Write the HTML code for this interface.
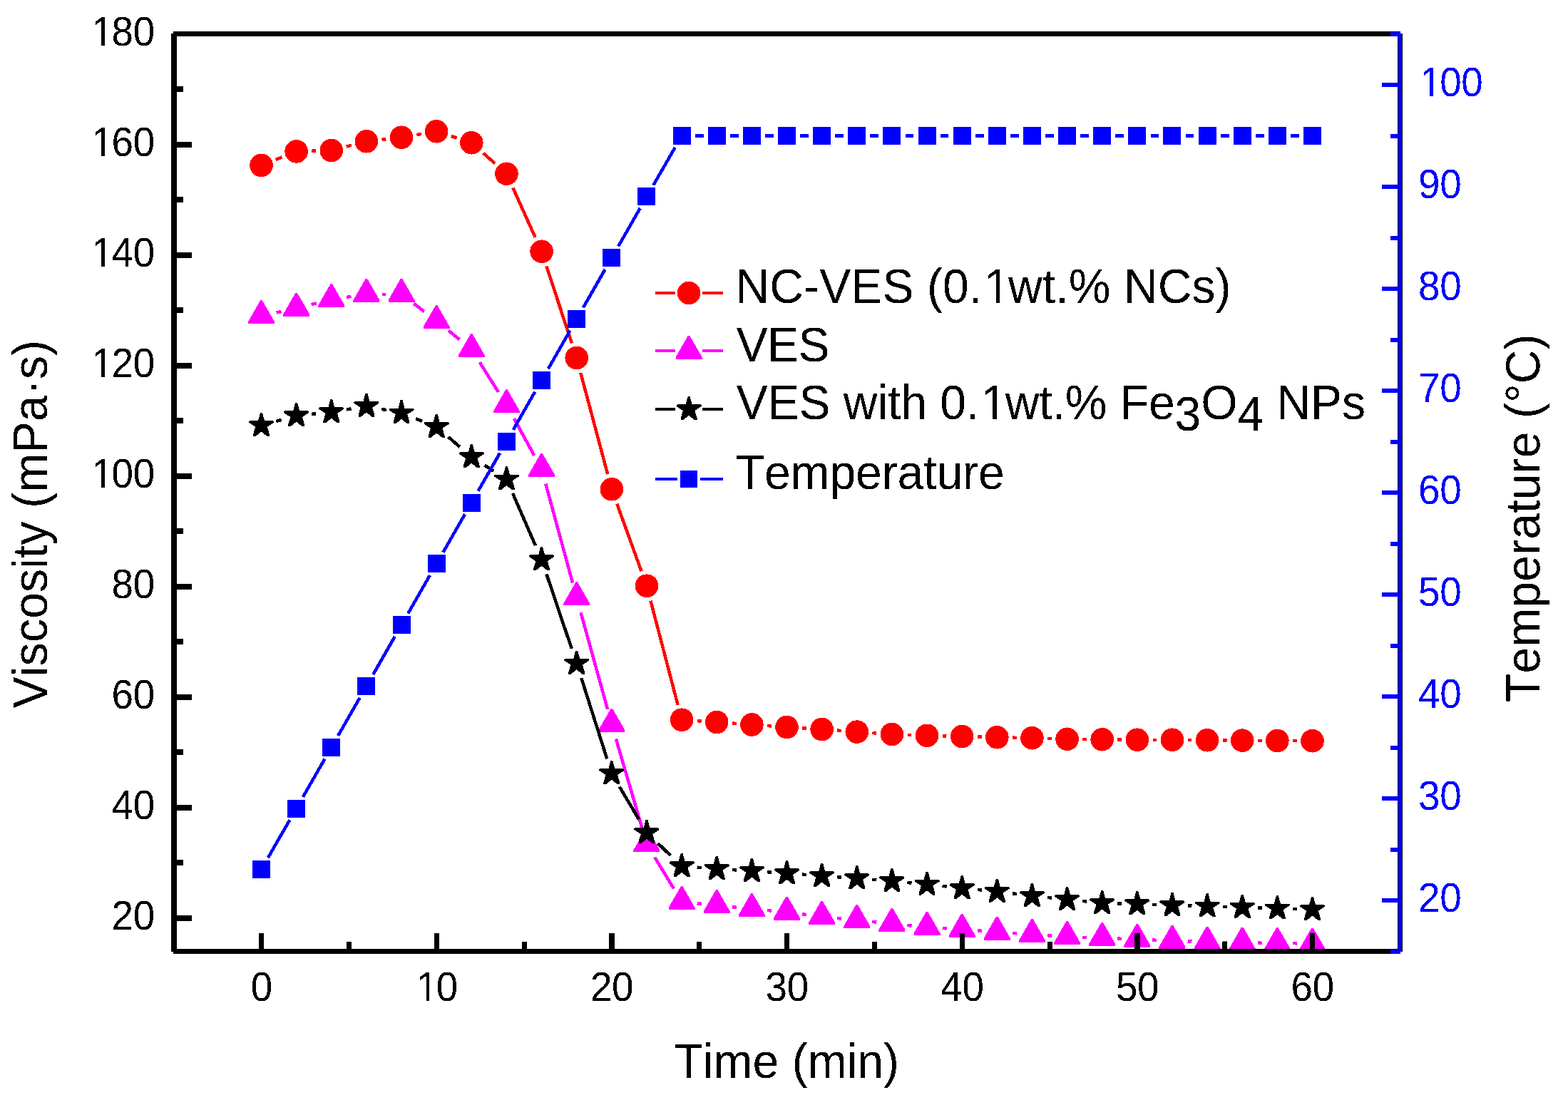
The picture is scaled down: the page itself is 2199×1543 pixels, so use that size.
<!DOCTYPE html>
<html lang="en"><head><meta charset="utf-8"><title>Viscosity and temperature vs time</title>
<style>html,body{margin:0;padding:0;background:#fff;width:2199px;height:1543px;overflow:hidden}svg{display:block;shape-rendering:crispEdges}text{font-family:"Liberation Sans",sans-serif;font-kerning:none}</style></head><body>
<svg width="2199" height="1543" viewBox="0 0 2199 1543">
<rect width="2199" height="1543" fill="#fff"/>
<g id="s-red"><path d="M386.67 223.9L395.46 220.4M437.32 211.78L443.08 211.62M485.77 205.55L492.9 203.7M535.47 195.84L541.47 195.16M584.42 189.05L590.78 187.95M632.8 190.97L640.67 193.53M677.55 214.63L694.19 229.37M719.35 263.53L750.65 332.97M766.35 373.36L801.91 481.39M814.29 522.97L852.24 665.28M865.23 706.65L899.57 801.35M912.45 842.74L950.61 988.76M977.75 1011.18L983.58 1011.57M1026.88 1014.54L1032.72 1014.96M1076.01 1018.04L1081.85 1018.46M1125.16 1021.32L1130.97 1021.68M1174.28 1024.59L1180.12 1025.01M1223.41 1028.1L1229.25 1028.5M1272.59 1030.77L1278.35 1030.98M1321.73 1032.3L1327.47 1032.45M1370.86 1033.55L1376.61 1033.7M1420 1034.69L1425.74 1034.81M1469.12 1035.91L1474.88 1036.09M1518.27 1036.97L1524 1037.03M1567.4 1037.47L1573.13 1037.53M1616.53 1037.75L1622.27 1037.75M1665.67 1037.97L1671.4 1038.03M1714.8 1038.4L1720.53 1038.45M1763.93 1038.78L1769.67 1038.82M1813.07 1039.11L1818.8 1039.14" stroke="#ff0000" stroke-width="4.5" fill="none"/>
<g fill="#ff0000"><circle cx="366.5" cy="231.9" r="16.3"/><circle cx="415.63" cy="212.4" r="16.3"/><circle cx="464.77" cy="211" r="16.3"/><circle cx="513.9" cy="198.25" r="16.3"/><circle cx="563.03" cy="192.75" r="16.3"/><circle cx="612.17" cy="184.25" r="16.3"/><circle cx="661.3" cy="200.25" r="16.3"/><circle cx="710.43" cy="243.75" r="16.3"/><circle cx="759.57" cy="352.75" r="16.3"/><circle cx="808.7" cy="502" r="16.3"/><circle cx="857.83" cy="686.25" r="16.3"/><circle cx="906.97" cy="821.75" r="16.3"/><circle cx="956.1" cy="1009.75" r="16.3"/><circle cx="1005.23" cy="1013" r="16.3"/><circle cx="1054.37" cy="1016.5" r="16.3"/><circle cx="1103.5" cy="1020" r="16.3"/><circle cx="1152.63" cy="1023" r="16.3"/><circle cx="1201.77" cy="1026.6" r="16.3"/><circle cx="1250.9" cy="1030" r="16.3"/><circle cx="1300.03" cy="1031.75" r="16.3"/><circle cx="1349.17" cy="1033" r="16.3"/><circle cx="1398.3" cy="1034.25" r="16.3"/><circle cx="1447.43" cy="1035.25" r="16.3"/><circle cx="1496.57" cy="1036.75" r="16.3"/><circle cx="1545.7" cy="1037.25" r="16.3"/><circle cx="1594.83" cy="1037.75" r="16.3"/><circle cx="1643.97" cy="1037.75" r="16.3"/><circle cx="1693.1" cy="1038.25" r="16.3"/><circle cx="1742.23" cy="1038.6" r="16.3"/><circle cx="1791.37" cy="1039" r="16.3"/><circle cx="1840.5" cy="1039.25" r="16.3"/></g></g>
<g id="s-mag"><path d="M387.62 438.49L394.51 437.01M436.57 427.17L443.83 425.33M486.14 416.85L492.53 415.9M535.5 412.75L541.43 412.75M580.25 425.8L594.95 436.95M628.92 463.64L644.55 476.36M672.79 508.29L698.95 549.96M720.83 587.18L749.17 638.82M765.24 678.59L803.03 817.41M814.46 859.07L852.07 994.93M863.89 1036.48L900.91 1163.27M918.17 1202.47L944.9 1246.53M977.59 1267.19L983.74 1267.81M1026.72 1272.19L1032.88 1272.81M1075.88 1276.97L1081.99 1277.53M1124.93 1282.23L1131.21 1283.02M1174.12 1287.94L1180.28 1288.56M1223.26 1292.94L1229.41 1293.56M1272.39 1297.94L1278.54 1298.56M1321.59 1302.07L1327.61 1302.43M1370.7 1305.39L1376.76 1305.86M1419.85 1308.93L1425.88 1309.32M1468.99 1312.18L1475.01 1312.57M1518.15 1314.77L1524.11 1314.98M1567.28 1316.63L1573.25 1316.87M1616.42 1318.63L1622.38 1318.87M1665.55 1320.52L1671.51 1320.73M1714.7 1321.94L1720.64 1322.06M1763.83 1322.72L1769.77 1322.78M1812.97 1323.22L1818.9 1323.28" stroke="#ff00ff" stroke-width="4.5" fill="none"/>
<g fill="#ff00ff"><polygon points="365.3,421.1 367.7,421.1 385,451.3 385,454.2 348,454.2 348,451.3"/><polygon points="414.43,410.6 416.83,410.6 434.13,440.8 434.13,443.7 397.13,443.7 397.13,440.8"/><polygon points="463.57,398.1 465.97,398.1 483.27,428.3 483.27,431.2 446.27,431.2 446.27,428.3"/><polygon points="512.7,390.85 515.1,390.85 532.4,421.05 532.4,423.95 495.4,423.95 495.4,421.05"/><polygon points="561.83,390.85 564.23,390.85 581.53,421.05 581.53,423.95 544.53,423.95 544.53,421.05"/><polygon points="610.97,428.1 613.37,428.1 630.67,458.3 630.67,461.2 593.67,461.2 593.67,458.3"/><polygon points="660.1,468.1 662.5,468.1 679.8,498.3 679.8,501.2 642.8,501.2 642.8,498.3"/><polygon points="709.23,546.35 711.63,546.35 728.93,576.55 728.93,579.45 691.93,579.45 691.93,576.55"/><polygon points="758.37,635.85 760.77,635.85 778.07,666.05 778.07,668.95 741.07,668.95 741.07,666.05"/><polygon points="807.5,816.35 809.9,816.35 827.2,846.55 827.2,849.45 790.2,849.45 790.2,846.55"/><polygon points="856.63,993.85 859.03,993.85 876.33,1024.05 876.33,1026.95 839.33,1026.95 839.33,1024.05"/><polygon points="905.77,1162.1 908.17,1162.1 925.47,1192.3 925.47,1195.2 888.47,1195.2 888.47,1192.3"/><polygon points="954.9,1243.1 957.3,1243.1 974.6,1273.3 974.6,1276.2 937.6,1276.2 937.6,1273.3"/><polygon points="1004.03,1248.1 1006.43,1248.1 1023.73,1278.3 1023.73,1281.2 986.73,1281.2 986.73,1278.3"/><polygon points="1053.17,1253.1 1055.57,1253.1 1072.87,1283.3 1072.87,1286.2 1035.87,1286.2 1035.87,1283.3"/><polygon points="1102.3,1257.6 1104.7,1257.6 1122,1287.8 1122,1290.7 1085,1290.7 1085,1287.8"/><polygon points="1151.43,1263.85 1153.83,1263.85 1171.13,1294.05 1171.13,1296.95 1134.13,1296.95 1134.13,1294.05"/><polygon points="1200.57,1268.85 1202.97,1268.85 1220.27,1299.05 1220.27,1301.95 1183.27,1301.95 1183.27,1299.05"/><polygon points="1249.7,1273.85 1252.1,1273.85 1269.4,1304.05 1269.4,1306.95 1232.4,1306.95 1232.4,1304.05"/><polygon points="1298.83,1278.85 1301.23,1278.85 1318.53,1309.05 1318.53,1311.95 1281.53,1311.95 1281.53,1309.05"/><polygon points="1347.97,1281.85 1350.37,1281.85 1367.67,1312.05 1367.67,1314.95 1330.67,1314.95 1330.67,1312.05"/><polygon points="1397.1,1285.6 1399.5,1285.6 1416.8,1315.8 1416.8,1318.7 1379.8,1318.7 1379.8,1315.8"/><polygon points="1446.23,1288.85 1448.63,1288.85 1465.93,1319.05 1465.93,1321.95 1428.93,1321.95 1428.93,1319.05"/><polygon points="1495.37,1292.1 1497.77,1292.1 1515.07,1322.3 1515.07,1325.2 1478.07,1325.2 1478.07,1322.3"/><polygon points="1544.5,1293.85 1546.9,1293.85 1564.2,1324.05 1564.2,1326.95 1527.2,1326.95 1527.2,1324.05"/><polygon points="1593.63,1295.85 1596.03,1295.85 1613.33,1326.05 1613.33,1328.95 1576.33,1328.95 1576.33,1326.05"/><polygon points="1642.77,1297.85 1645.17,1297.85 1662.47,1328.05 1662.47,1330.95 1625.47,1330.95 1625.47,1328.05"/><polygon points="1691.9,1299.6 1694.3,1299.6 1711.6,1329.8 1711.6,1332.7 1674.6,1332.7 1674.6,1329.8"/><polygon points="1741.03,1300.6 1743.43,1300.6 1760.73,1330.8 1760.73,1333.7 1723.73,1333.7 1723.73,1330.8"/><polygon points="1790.17,1301.1 1792.57,1301.1 1809.87,1331.3 1809.87,1334.2 1772.87,1334.2 1772.87,1331.3"/><polygon points="1839.3,1301.6 1841.7,1301.6 1859,1331.8 1859,1334.7 1822,1334.7 1822,1331.8"/></g></g>
<g id="s-blk"><path d="M387.3 590.93L394.83 588.82M437.12 580.81L443.28 580.19M486.07 574.42L492.6 573.33M535.11 573.85L541.83 575.15M583.11 587.22L592.09 590.78M628.54 612.83L644.92 626.92M679.53 652.59L692.21 660.66M719.06 692.05L750.94 765.2M766.48 805.46L801.79 910.04M815.25 951.08L851.29 1064.42M868.84 1103.59L895.96 1149.41M922.58 1182.93L940.49 1200.07M977.64 1216.64L983.7 1217.11M1026.79 1220.07L1032.81 1220.43M1075.92 1223.18L1081.95 1223.57M1125.04 1226.64L1131.1 1227.11M1174.19 1230.18L1180.21 1230.57M1223.3 1233.75L1229.37 1234.25M1272.41 1237.97L1278.52 1238.53M1321.5 1242.9L1327.7 1243.6M1370.68 1247.97L1376.79 1248.53M1419.73 1253.23L1426.01 1254.02M1468.92 1258.94L1475.08 1259.56M1518.06 1263.94L1524.21 1264.56M1567.29 1267.3L1573.24 1267.45M1616.42 1268.88L1622.38 1269.12M1665.56 1270.55L1671.51 1270.7M1714.69 1271.8L1720.64 1271.95M1763.82 1273.27L1769.78 1273.48M1812.96 1274.91L1818.91 1275.09" stroke="#000000" stroke-width="4.5" fill="none"/>
<g fill="#000000"><polygon points="365,578.95 368,578.95 370.95,590.05 382.75,590.05 384,591.15 384,592.75 374.8,598.75 377.9,609.15 377.9,611.75 374.3,611.75 366.5,605.55 358.7,611.75 355.1,611.75 355.1,609.15 358.2,598.75 349,592.75 349,591.15 350.25,590.05 362.05,590.05"/><polygon points="414.13,565.2 417.13,565.2 420.08,576.3 431.88,576.3 433.13,577.4 433.13,579 423.93,585 427.03,595.4 427.03,598 423.43,598 415.63,591.8 407.83,598 404.23,598 404.23,595.4 407.33,585 398.13,579 398.13,577.4 399.38,576.3 411.18,576.3"/><polygon points="463.27,560.2 466.27,560.2 469.22,571.3 481.02,571.3 482.27,572.4 482.27,574 473.07,580 476.17,590.4 476.17,593 472.57,593 464.77,586.8 456.97,593 453.37,593 453.37,590.4 456.47,580 447.27,574 447.27,572.4 448.52,571.3 460.32,571.3"/><polygon points="512.4,551.95 515.4,551.95 518.35,563.05 530.15,563.05 531.4,564.15 531.4,565.75 522.2,571.75 525.3,582.15 525.3,584.75 521.7,584.75 513.9,578.55 506.1,584.75 502.5,584.75 502.5,582.15 505.6,571.75 496.4,565.75 496.4,564.15 497.65,563.05 509.45,563.05"/><polygon points="561.53,561.45 564.53,561.45 567.48,572.55 579.28,572.55 580.53,573.65 580.53,575.25 571.33,581.25 574.43,591.65 574.43,594.25 570.83,594.25 563.03,588.05 555.23,594.25 551.63,594.25 551.63,591.65 554.73,581.25 545.53,575.25 545.53,573.65 546.78,572.55 558.58,572.55"/><polygon points="610.67,580.95 613.67,580.95 616.62,592.05 628.42,592.05 629.67,593.15 629.67,594.75 620.47,600.75 623.57,611.15 623.57,613.75 619.97,613.75 612.17,607.55 604.37,613.75 600.77,613.75 600.77,611.15 603.87,600.75 594.67,594.75 594.67,593.15 595.92,592.05 607.72,592.05"/><polygon points="659.8,623.2 662.8,623.2 665.75,634.3 677.55,634.3 678.8,635.4 678.8,637 669.6,643 672.7,653.4 672.7,656 669.1,656 661.3,649.8 653.5,656 649.9,656 649.9,653.4 653,643 643.8,637 643.8,635.4 645.05,634.3 656.85,634.3"/><polygon points="708.93,654.45 711.93,654.45 714.88,665.55 726.68,665.55 727.93,666.65 727.93,668.25 718.73,674.25 721.83,684.65 721.83,687.25 718.23,687.25 710.43,681.05 702.63,687.25 699.03,687.25 699.03,684.65 702.13,674.25 692.93,668.25 692.93,666.65 694.18,665.55 705.98,665.55"/><polygon points="758.07,767.2 761.07,767.2 764.02,778.3 775.82,778.3 777.07,779.4 777.07,781 767.87,787 770.97,797.4 770.97,800 767.37,800 759.57,793.8 751.77,800 748.17,800 748.17,797.4 751.27,787 742.07,781 742.07,779.4 743.32,778.3 755.12,778.3"/><polygon points="807.2,912.7 810.2,912.7 813.15,923.8 824.95,923.8 826.2,924.9 826.2,926.5 817,932.5 820.1,942.9 820.1,945.5 816.5,945.5 808.7,939.3 800.9,945.5 797.3,945.5 797.3,942.9 800.4,932.5 791.2,926.5 791.2,924.9 792.45,923.8 804.25,923.8"/><polygon points="856.33,1067.2 859.33,1067.2 862.28,1078.3 874.08,1078.3 875.33,1079.4 875.33,1081 866.13,1087 869.23,1097.4 869.23,1100 865.63,1100 857.83,1093.8 850.03,1100 846.43,1100 846.43,1097.4 849.53,1087 840.33,1081 840.33,1079.4 841.58,1078.3 853.38,1078.3"/><polygon points="905.47,1150.2 908.47,1150.2 911.42,1161.3 923.22,1161.3 924.47,1162.4 924.47,1164 915.27,1170 918.37,1180.4 918.37,1183 914.77,1183 906.97,1176.8 899.17,1183 895.57,1183 895.57,1180.4 898.67,1170 889.47,1164 889.47,1162.4 890.72,1161.3 902.52,1161.3"/><polygon points="954.6,1197.2 957.6,1197.2 960.55,1208.3 972.35,1208.3 973.6,1209.4 973.6,1211 964.4,1217 967.5,1227.4 967.5,1230 963.9,1230 956.1,1223.8 948.3,1230 944.7,1230 944.7,1227.4 947.8,1217 938.6,1211 938.6,1209.4 939.85,1208.3 951.65,1208.3"/><polygon points="1003.73,1200.95 1006.73,1200.95 1009.68,1212.05 1021.48,1212.05 1022.73,1213.15 1022.73,1214.75 1013.53,1220.75 1016.63,1231.15 1016.63,1233.75 1013.03,1233.75 1005.23,1227.55 997.43,1233.75 993.83,1233.75 993.83,1231.15 996.93,1220.75 987.73,1214.75 987.73,1213.15 988.98,1212.05 1000.78,1212.05"/><polygon points="1052.87,1203.95 1055.87,1203.95 1058.82,1215.05 1070.62,1215.05 1071.87,1216.15 1071.87,1217.75 1062.67,1223.75 1065.77,1234.15 1065.77,1236.75 1062.17,1236.75 1054.37,1230.55 1046.57,1236.75 1042.97,1236.75 1042.97,1234.15 1046.07,1223.75 1036.87,1217.75 1036.87,1216.15 1038.12,1215.05 1049.92,1215.05"/><polygon points="1102,1207.2 1105,1207.2 1107.95,1218.3 1119.75,1218.3 1121,1219.4 1121,1221 1111.8,1227 1114.9,1237.4 1114.9,1240 1111.3,1240 1103.5,1233.8 1095.7,1240 1092.1,1240 1092.1,1237.4 1095.2,1227 1086,1221 1086,1219.4 1087.25,1218.3 1099.05,1218.3"/><polygon points="1151.13,1210.95 1154.13,1210.95 1157.08,1222.05 1168.88,1222.05 1170.13,1223.15 1170.13,1224.75 1160.93,1230.75 1164.03,1241.15 1164.03,1243.75 1160.43,1243.75 1152.63,1237.55 1144.83,1243.75 1141.23,1243.75 1141.23,1241.15 1144.33,1230.75 1135.13,1224.75 1135.13,1223.15 1136.38,1222.05 1148.18,1222.05"/><polygon points="1200.27,1214.2 1203.27,1214.2 1206.22,1225.3 1218.02,1225.3 1219.27,1226.4 1219.27,1228 1210.07,1234 1213.17,1244.4 1213.17,1247 1209.57,1247 1201.77,1240.8 1193.97,1247 1190.37,1247 1190.37,1244.4 1193.47,1234 1184.27,1228 1184.27,1226.4 1185.52,1225.3 1197.32,1225.3"/><polygon points="1249.4,1218.2 1252.4,1218.2 1255.35,1229.3 1267.15,1229.3 1268.4,1230.4 1268.4,1232 1259.2,1238 1262.3,1248.4 1262.3,1251 1258.7,1251 1250.9,1244.8 1243.1,1251 1239.5,1251 1239.5,1248.4 1242.6,1238 1233.4,1232 1233.4,1230.4 1234.65,1229.3 1246.45,1229.3"/><polygon points="1298.53,1222.7 1301.53,1222.7 1304.48,1233.8 1316.28,1233.8 1317.53,1234.9 1317.53,1236.5 1308.33,1242.5 1311.43,1252.9 1311.43,1255.5 1307.83,1255.5 1300.03,1249.3 1292.23,1255.5 1288.63,1255.5 1288.63,1252.9 1291.73,1242.5 1282.53,1236.5 1282.53,1234.9 1283.78,1233.8 1295.58,1233.8"/><polygon points="1347.67,1228.2 1350.67,1228.2 1353.62,1239.3 1365.42,1239.3 1366.67,1240.4 1366.67,1242 1357.47,1248 1360.57,1258.4 1360.57,1261 1356.97,1261 1349.17,1254.8 1341.37,1261 1337.77,1261 1337.77,1258.4 1340.87,1248 1331.67,1242 1331.67,1240.4 1332.92,1239.3 1344.72,1239.3"/><polygon points="1396.8,1232.7 1399.8,1232.7 1402.75,1243.8 1414.55,1243.8 1415.8,1244.9 1415.8,1246.5 1406.6,1252.5 1409.7,1262.9 1409.7,1265.5 1406.1,1265.5 1398.3,1259.3 1390.5,1265.5 1386.9,1265.5 1386.9,1262.9 1390,1252.5 1380.8,1246.5 1380.8,1244.9 1382.05,1243.8 1393.85,1243.8"/><polygon points="1445.93,1238.95 1448.93,1238.95 1451.88,1250.05 1463.68,1250.05 1464.93,1251.15 1464.93,1252.75 1455.73,1258.75 1458.83,1269.15 1458.83,1271.75 1455.23,1271.75 1447.43,1265.55 1439.63,1271.75 1436.03,1271.75 1436.03,1269.15 1439.13,1258.75 1429.93,1252.75 1429.93,1251.15 1431.18,1250.05 1442.98,1250.05"/><polygon points="1495.07,1243.95 1498.07,1243.95 1501.02,1255.05 1512.82,1255.05 1514.07,1256.15 1514.07,1257.75 1504.87,1263.75 1507.97,1274.15 1507.97,1276.75 1504.37,1276.75 1496.57,1270.55 1488.77,1276.75 1485.17,1276.75 1485.17,1274.15 1488.27,1263.75 1479.07,1257.75 1479.07,1256.15 1480.32,1255.05 1492.12,1255.05"/><polygon points="1544.2,1248.95 1547.2,1248.95 1550.15,1260.05 1561.95,1260.05 1563.2,1261.15 1563.2,1262.75 1554,1268.75 1557.1,1279.15 1557.1,1281.75 1553.5,1281.75 1545.7,1275.55 1537.9,1281.75 1534.3,1281.75 1534.3,1279.15 1537.4,1268.75 1528.2,1262.75 1528.2,1261.15 1529.45,1260.05 1541.25,1260.05"/><polygon points="1593.33,1250.2 1596.33,1250.2 1599.28,1261.3 1611.08,1261.3 1612.33,1262.4 1612.33,1264 1603.13,1270 1606.23,1280.4 1606.23,1283 1602.63,1283 1594.83,1276.8 1587.03,1283 1583.43,1283 1583.43,1280.4 1586.53,1270 1577.33,1264 1577.33,1262.4 1578.58,1261.3 1590.38,1261.3"/><polygon points="1642.47,1252.2 1645.47,1252.2 1648.42,1263.3 1660.22,1263.3 1661.47,1264.4 1661.47,1266 1652.27,1272 1655.37,1282.4 1655.37,1285 1651.77,1285 1643.97,1278.8 1636.17,1285 1632.57,1285 1632.57,1282.4 1635.67,1272 1626.47,1266 1626.47,1264.4 1627.72,1263.3 1639.52,1263.3"/><polygon points="1691.6,1253.45 1694.6,1253.45 1697.55,1264.55 1709.35,1264.55 1710.6,1265.65 1710.6,1267.25 1701.4,1273.25 1704.5,1283.65 1704.5,1286.25 1700.9,1286.25 1693.1,1280.05 1685.3,1286.25 1681.7,1286.25 1681.7,1283.65 1684.8,1273.25 1675.6,1267.25 1675.6,1265.65 1676.85,1264.55 1688.65,1264.55"/><polygon points="1740.73,1254.7 1743.73,1254.7 1746.68,1265.8 1758.48,1265.8 1759.73,1266.9 1759.73,1268.5 1750.53,1274.5 1753.63,1284.9 1753.63,1287.5 1750.03,1287.5 1742.23,1281.3 1734.43,1287.5 1730.83,1287.5 1730.83,1284.9 1733.93,1274.5 1724.73,1268.5 1724.73,1266.9 1725.98,1265.8 1737.78,1265.8"/><polygon points="1789.87,1256.45 1792.87,1256.45 1795.82,1267.55 1807.62,1267.55 1808.87,1268.65 1808.87,1270.25 1799.67,1276.25 1802.77,1286.65 1802.77,1289.25 1799.17,1289.25 1791.37,1283.05 1783.57,1289.25 1779.97,1289.25 1779.97,1286.65 1783.07,1276.25 1773.87,1270.25 1773.87,1268.65 1775.12,1267.55 1786.92,1267.55"/><polygon points="1839,1257.95 1842,1257.95 1844.95,1269.05 1856.75,1269.05 1858,1270.15 1858,1271.75 1848.8,1277.75 1851.9,1288.15 1851.9,1290.75 1848.3,1290.75 1840.5,1284.55 1832.7,1290.75 1829.1,1290.75 1829.1,1288.15 1832.2,1277.75 1823,1271.75 1823,1270.15 1824.25,1269.05 1836.05,1269.05"/></g></g>
<g id="axes" fill="#000"><rect x="240" y="47" width="8" height="1287.5"/><rect x="243" y="1331" width="1721" height="7"/><rect x="243" y="44" width="1721" height="7"/><rect x="1960" y="47" width="7" height="1288"/><rect x="248" y="1283.98" width="21" height="8"/><rect x="248" y="1206.45" width="9" height="8"/><rect x="248" y="1128.92" width="21" height="8"/><rect x="248" y="1051.39" width="9" height="8"/><rect x="248" y="973.86" width="21" height="8"/><rect x="248" y="896.33" width="9" height="8"/><rect x="248" y="818.8" width="21" height="8"/><rect x="248" y="741.27" width="9" height="8"/><rect x="248" y="663.74" width="21" height="8"/><rect x="248" y="586.21" width="9" height="8"/><rect x="248" y="508.68" width="21" height="8"/><rect x="248" y="431.15" width="9" height="8"/><rect x="248" y="353.62" width="21" height="8"/><rect x="248" y="276.09" width="9" height="8"/><rect x="248" y="198.56" width="21" height="8"/><rect x="248" y="121.03" width="9" height="8"/><rect x="363.1" y="1309" width="7.2" height="22"/><rect x="485.93" y="1321" width="7.2" height="10"/><rect x="608.77" y="1309" width="7.2" height="22"/><rect x="731.6" y="1321" width="7.2" height="10"/><rect x="854.43" y="1309" width="7.2" height="22"/><rect x="977.27" y="1321" width="7.2" height="10"/><rect x="1100.1" y="1309" width="7.2" height="22"/><rect x="1222.93" y="1321" width="7.2" height="10"/><rect x="1345.77" y="1309" width="7.2" height="22"/><rect x="1468.6" y="1321" width="7.2" height="10"/><rect x="1591.43" y="1309" width="7.2" height="22"/><rect x="1714.27" y="1321" width="7.2" height="10"/><rect x="1837.1" y="1309" width="7.2" height="22"/></g>
<g id="s-blu"><path d="M375.84 1203.2L406.3 1150.33M424.92 1117.9L455.48 1064.54M474.06 1032.08L504.61 978.72M523.19 946.26L553.74 892.9M572.32 860.45L602.88 807.08M621.46 774.63L652.01 721.27M670.59 688.81L701.14 635.45M719.72 602.99L750.28 549.63M768.86 517.17L799.41 463.81M817.99 431.36L848.54 377.99M867.12 345.54L897.68 292.18M916.29 259.74L946.78 206.74M974.8 190.53L986.53 190.53M1023.93 190.53L1035.67 190.53M1073.07 190.53L1084.8 190.53M1122.2 190.53L1133.93 190.53M1171.33 190.53L1183.07 190.53M1220.47 190.53L1232.2 190.53M1269.6 190.53L1281.33 190.53M1318.73 190.53L1330.47 190.53M1367.87 190.53L1379.6 190.53M1417 190.53L1428.73 190.53M1466.13 190.53L1477.87 190.53M1515.27 190.53L1527 190.53M1564.4 190.53L1576.13 190.53M1613.53 190.53L1625.27 190.53M1662.67 190.53L1674.4 190.53M1711.8 190.53L1723.53 190.53M1760.93 190.53L1772.67 190.53M1810.07 190.53L1821.8 190.53" stroke="#0000ff" stroke-width="4.5" fill="none"/>
<g fill="#0000ff"><rect x="354" y="1206.9" width="25" height="25"/><rect x="403.13" y="1121.63" width="25" height="25"/><rect x="452.27" y="1035.81" width="25" height="25"/><rect x="501.4" y="949.99" width="25" height="25"/><rect x="550.53" y="864.17" width="25" height="25"/><rect x="599.67" y="778.36" width="25" height="25"/><rect x="648.8" y="692.54" width="25" height="25"/><rect x="697.93" y="606.72" width="25" height="25"/><rect x="747.07" y="520.9" width="25" height="25"/><rect x="796.2" y="435.08" width="25" height="25"/><rect x="845.33" y="349.27" width="25" height="25"/><rect x="894.47" y="263.45" width="25" height="25"/><rect x="943.6" y="178.03" width="25" height="25"/><rect x="992.73" y="178.03" width="25" height="25"/><rect x="1041.87" y="178.03" width="25" height="25"/><rect x="1091" y="178.03" width="25" height="25"/><rect x="1140.13" y="178.03" width="25" height="25"/><rect x="1189.27" y="178.03" width="25" height="25"/><rect x="1238.4" y="178.03" width="25" height="25"/><rect x="1287.53" y="178.03" width="25" height="25"/><rect x="1336.67" y="178.03" width="25" height="25"/><rect x="1385.8" y="178.03" width="25" height="25"/><rect x="1434.93" y="178.03" width="25" height="25"/><rect x="1484.07" y="178.03" width="25" height="25"/><rect x="1533.2" y="178.03" width="25" height="25"/><rect x="1582.33" y="178.03" width="25" height="25"/><rect x="1631.47" y="178.03" width="25" height="25"/><rect x="1680.6" y="178.03" width="25" height="25"/><rect x="1729.73" y="178.03" width="25" height="25"/><rect x="1778.87" y="178.03" width="25" height="25"/><rect x="1828" y="178.03" width="25" height="25"/></g></g>
<g id="axes2" fill="#0000ff"><rect x="1961.2" y="47" width="5.2" height="1288"/><rect x="1950.2" y="1331.77" width="14" height="6"/><rect x="1938.2" y="1260.25" width="26" height="6"/><rect x="1950.2" y="1188.74" width="14" height="6"/><rect x="1938.2" y="1117.22" width="26" height="6"/><rect x="1950.2" y="1045.71" width="14" height="6"/><rect x="1938.2" y="974.19" width="26" height="6"/><rect x="1950.2" y="902.68" width="14" height="6"/><rect x="1938.2" y="831.16" width="26" height="6"/><rect x="1950.2" y="759.65" width="14" height="6"/><rect x="1938.2" y="688.13" width="26" height="6"/><rect x="1950.2" y="616.62" width="14" height="6"/><rect x="1938.2" y="545.1" width="26" height="6"/><rect x="1950.2" y="473.59" width="14" height="6"/><rect x="1938.2" y="402.07" width="26" height="6"/><rect x="1950.2" y="330.56" width="14" height="6"/><rect x="1938.2" y="259.04" width="26" height="6"/><rect x="1950.2" y="187.53" width="14" height="6"/><rect x="1938.2" y="116.01" width="26" height="6"/><rect x="1950.2" y="44.5" width="14" height="6"/></g>
<g id="legend-symbols"><path d="M919.3 411 H946.9 M985.3 411 H1013.8" stroke="#ff0000" stroke-width="4.4" fill="none"/><g fill="#ff0000"><circle cx="966.1" cy="411" r="16.3"/></g><path d="M919.3 492 H946.9 M985.3 492 H1013.8" stroke="#ff00ff" stroke-width="4.4" fill="none"/><g fill="#ff00ff"><polygon points="964.9,470.8 967.3,470.8 984.6,501 984.6,503.9 947.6,503.9 947.6,501"/></g><path d="M919.3 574 H946.9 M985.3 574 H1013.8" stroke="#000000" stroke-width="4.4" fill="none"/><g fill="#000000"><polygon points="964.6,556.2 967.6,556.2 970.55,567.3 982.35,567.3 983.6,568.4 983.6,570 974.4,576 977.5,586.4 977.5,589 973.9,589 966.1,582.8 958.3,589 954.7,589 954.7,586.4 957.8,576 948.6,570 948.6,568.4 949.85,567.3 961.65,567.3"/></g><path d="M919.3 671.9 H949.9 M982.3 671.9 H1013.8" stroke="#0000ff" stroke-width="4.4" fill="none"/><g fill="#0000ff"><rect x="954" y="659.8" width="24.2" height="24.2"/></g></g>
<defs><filter id="px" x="-5%" y="-20%" width="110%" height="140%" color-interpolation-filters="sRGB"><feComponentTransfer><feFuncA type="discrete" tableValues="0 1"/></feComponentTransfer></filter></defs>
<g id="labels" filter="url(#px)">
<g transform="translate(217.2 1303.98) scale(1 1.040)"><text x="-60.65" font-size="54.8" fill="#000" letter-spacing="-0.3">20</text></g>
<g transform="translate(217.2 1148.92) scale(1 1.040)"><text x="-60.65" font-size="54.8" fill="#000" letter-spacing="-0.3">40</text></g>
<g transform="translate(217.2 993.86) scale(1 1.040)"><text x="-60.65" font-size="54.8" fill="#000" letter-spacing="-0.3">60</text></g>
<g transform="translate(217.2 838.8) scale(1 1.040)"><text x="-60.65" font-size="54.8" fill="#000" letter-spacing="-0.3">80</text></g>
<g transform="translate(217.2 683.74) scale(1 1.040)"><text x="-90.83" font-size="54.8" fill="#000" letter-spacing="-0.3"><tspan dx="2.19">1</tspan><tspan dx="-2.19">0</tspan>0</text></g>
<g transform="translate(217.2 528.68) scale(1 1.040)"><text x="-90.83" font-size="54.8" fill="#000" letter-spacing="-0.3"><tspan dx="2.19">1</tspan><tspan dx="-2.19">2</tspan>0</text></g>
<g transform="translate(217.2 373.62) scale(1 1.040)"><text x="-90.83" font-size="54.8" fill="#000" letter-spacing="-0.3"><tspan dx="2.19">1</tspan><tspan dx="-2.19">4</tspan>0</text></g>
<g transform="translate(217.2 218.56) scale(1 1.040)"><text x="-90.83" font-size="54.8" fill="#000" letter-spacing="-0.3"><tspan dx="2.19">1</tspan><tspan dx="-2.19">6</tspan>0</text></g>
<g transform="translate(217.2 63.5) scale(1 1.040)"><text x="-90.83" font-size="54.8" fill="#000" letter-spacing="-0.3"><tspan dx="2.19">1</tspan><tspan dx="-2.19">8</tspan>0</text></g>
<g transform="translate(366.9 1404) scale(1 1.040)"><text x="-15.24" font-size="54.8" fill="#000" letter-spacing="-0.3">0</text></g>
<g transform="translate(611.97 1404) scale(1 1.040)"><text x="-30.33" font-size="54.8" fill="#000" letter-spacing="-0.3"><tspan dx="2.19">1</tspan><tspan dx="-2.19">0</tspan></text></g>
<g transform="translate(858.23 1404) scale(1 1.040)"><text x="-30.33" font-size="54.8" fill="#000" letter-spacing="-0.3">20</text></g>
<g transform="translate(1103.9 1404) scale(1 1.040)"><text x="-30.33" font-size="54.8" fill="#000" letter-spacing="-0.3">30</text></g>
<g transform="translate(1349.57 1404) scale(1 1.040)"><text x="-30.33" font-size="54.8" fill="#000" letter-spacing="-0.3">40</text></g>
<g transform="translate(1595.23 1404) scale(1 1.040)"><text x="-30.33" font-size="54.8" fill="#000" letter-spacing="-0.3">50</text></g>
<g transform="translate(1840.9 1404) scale(1 1.040)"><text x="-30.33" font-size="54.8" fill="#000" letter-spacing="-0.3">60</text></g>
<g transform="translate(1989 1279.05) scale(1 1.040)"><text font-size="54.8" fill="#0000ff" letter-spacing="-0.3">20</text></g>
<g transform="translate(1989 1136.02) scale(1 1.040)"><text font-size="54.8" fill="#0000ff" letter-spacing="-0.3">30</text></g>
<g transform="translate(1989 992.99) scale(1 1.040)"><text font-size="54.8" fill="#0000ff" letter-spacing="-0.3">40</text></g>
<g transform="translate(1989 849.96) scale(1 1.040)"><text font-size="54.8" fill="#0000ff" letter-spacing="-0.3">50</text></g>
<g transform="translate(1989 706.93) scale(1 1.040)"><text font-size="54.8" fill="#0000ff" letter-spacing="-0.3">60</text></g>
<g transform="translate(1989 563.9) scale(1 1.040)"><text font-size="54.8" fill="#0000ff" letter-spacing="-0.3">70</text></g>
<g transform="translate(1989 420.87) scale(1 1.040)"><text font-size="54.8" fill="#0000ff" letter-spacing="-0.3">80</text></g>
<g transform="translate(1989 277.84) scale(1 1.040)"><text font-size="54.8" fill="#0000ff" letter-spacing="-0.3">90</text></g>
<g transform="translate(1989 134.81) scale(1 1.040)"><text font-size="54.8" fill="#0000ff" letter-spacing="-0.3"><tspan dx="2.19">1</tspan><tspan dx="-2.19">0</tspan>0</text></g>
<g transform="translate(947 1512.2) scale(1 1.040)"><text x="-1.48" font-size="66" fill="#000" letter-spacing="0.03">Time (min)</text></g>
<g transform="translate(66.3 993) rotate(-90) scale(1 1.040)"><text x="-0.29" font-size="66" fill="#000" letter-spacing="0.19">Viscosity (mPa·s)</text></g>
<g transform="translate(2159.8 983.5) rotate(-90) scale(1 1.040)"><text x="-1.48" font-size="66" fill="#000" letter-spacing="0.16">Temperature (°C)</text></g>
<g transform="translate(1037 425) scale(1 1.040)"><text x="-5.41" font-size="66" fill="#000" letter-spacing="0.1">NC-VES (0.<tspan dx="2.64">1</tspan><tspan dx="-2.64">w</tspan>t.% NCs)</text></g>
<g transform="translate(1033 507) scale(1 1.040)"><text x="-0.29" font-size="66" fill="#000" letter-spacing="-0.62">VES</text></g>
<g transform="translate(1033 588.2) scale(1 1.040)"><text x="-0.29" font-size="66" fill="#000" letter-spacing="-0.07">VES with 0.<tspan dx="2.64">1</tspan><tspan dx="-2.64">w</tspan>t.% Fe<tspan dy="15">3</tspan><tspan dy="-15">O</tspan><tspan dy="15">4</tspan><tspan dy="-15"> NPs</tspan></text></g>
<g transform="translate(1033.25 685.75) scale(1 1.040)"><text x="-1.48" font-size="66" fill="#000" letter-spacing="-0.09">Temperature</text></g>
</g>
<g id="digit-trim" fill="#fff"><rect x="131.3" y="677.98" width="10.7" height="7.26"/><rect x="147" y="677.98" width="10.12" height="7.26"/><rect x="131.3" y="522.92" width="10.7" height="7.26"/><rect x="147" y="522.92" width="10.12" height="7.26"/><rect x="131.3" y="367.86" width="10.7" height="7.26"/><rect x="147" y="367.86" width="10.12" height="7.26"/><rect x="131.3" y="212.8" width="10.7" height="7.26"/><rect x="147" y="212.8" width="10.12" height="7.26"/><rect x="131.3" y="57.74" width="10.7" height="7.26"/><rect x="147" y="57.74" width="10.12" height="7.26"/><rect x="586.57" y="1398.24" width="11.43" height="7.26"/><rect x="602" y="1398.24" width="10.39" height="7.26"/><rect x="1993.93" y="129.06" width="11.07" height="7.26"/><rect x="2010" y="129.06" width="9.75" height="7.26"/><rect x="1383.26" y="418.37" width="13.74" height="8.13"/><rect x="1402" y="418.37" width="12.26" height="8.13"/><rect x="1379" y="581.57" width="13" height="8.13"/><rect x="1398" y="581.57" width="11.99" height="8.13"/></g>
</svg></body></html>
